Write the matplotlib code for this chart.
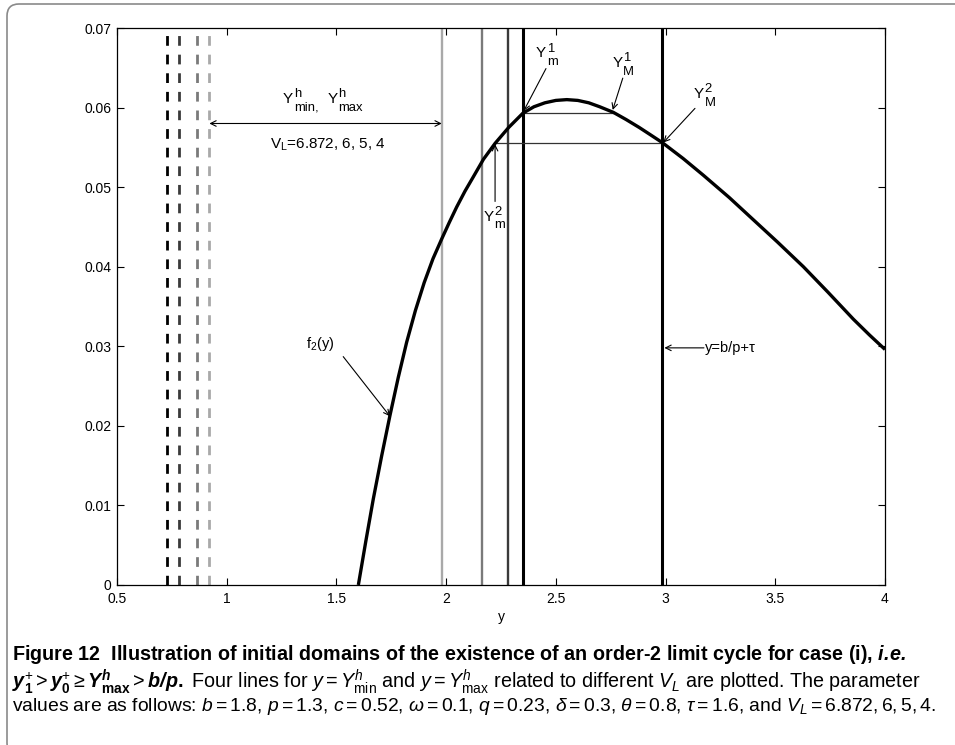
import matplotlib
matplotlib.use('Agg')
import matplotlib.pyplot as plt
from matplotlib import font_manager
from matplotlib.patches import FancyBboxPatch
from matplotlib.transforms import IdentityTransform

# f2(y) sampled along the curve
y_pts = [1.600, 1.634, 1.668, 1.706, 1.744, 1.782, 1.820, 1.860, 1.900, 1.940,
         1.980, 2.015, 2.048, 2.086, 2.124, 2.170, 2.223, 2.285, 2.350, 2.400,
         2.450, 2.500, 2.550, 2.600, 2.650, 2.700, 2.762, 2.820, 2.880, 2.930,
         2.985, 3.080, 3.172, 3.290, 3.400, 3.510, 3.628, 3.740, 3.856, 3.930, 4.000]
f2_pts = [0.0, 0.0055, 0.0108, 0.0162, 0.0213, 0.0261, 0.0305, 0.0345, 0.0380, 0.0410,
          0.0435, 0.0456, 0.0475, 0.0495, 0.0513, 0.0535, 0.0555, 0.0575, 0.0593, 0.0601,
          0.0606, 0.0609, 0.0610, 0.0609, 0.0606, 0.0601, 0.0594, 0.0585, 0.0575, 0.0566,
          0.0556, 0.0536, 0.0515, 0.0487, 0.0459, 0.0431, 0.0400, 0.0368, 0.0334, 0.0314, 0.0296]

# Y^h_min (dashed) and Y^h_max (solid) for V_L = 6.872, 6, 5, 4
v_l = ['6.872', '6', '5', '4']
y_min_h = [0.728, 0.783, 0.863, 0.921]
y_max_h = [2.349, 2.280, 2.162, 1.980]
greys = ['#000000', '#3a3a3a', '#7a7a7a', '#a9a9a9']

b, p, tau = 1.8, 1.3, 1.6
y_switch = b / p + tau

# order-2 cycle points: (level, Y_m, Y_M)
cycle1 = (0.0593, 2.349, 2.762)
cycle2 = (0.0555, 2.223, y_switch)

x_ticks = [0.5, 1, 1.5, 2, 2.5, 3, 3.5, 4]
x_tick_labels = ['0.5', '1', '1.5', '2', '2.5', '3', '3.5', '4']
y_ticks = [0, 0.01, 0.02, 0.03, 0.04, 0.05, 0.06, 0.07]
y_tick_labels = ['0', '0.01', '0.02', '0.03', '0.04', '0.05', '0.06', '0.07']

names = {f.name for f in font_manager.fontManager.ttflist}
cap_font = 'Liberation Sans Narrow' if 'Liberation Sans Narrow' in names else 'Liberation Sans'

plt.rcParams['font.family'] = ['Liberation Sans', 'DejaVu Sans']
plt.rcParams['mathtext.fontset'] = 'custom'
plt.rcParams['mathtext.rm'] = cap_font
plt.rcParams['mathtext.it'] = cap_font + ':italic'
plt.rcParams['mathtext.bf'] = cap_font + ':bold'
plt.rcParams['mathtext.bfit'] = cap_font + ':italic:bold'

fig = plt.figure(figsize=(9.55, 7.45), dpi=100)
ax = fig.add_axes([0.1225, 0.2148, 0.8042, 0.7476])


def scripted(x, y, base, sup=None, sub=None, size=11):
    # base glyph ends at (x, y); scripts hang off its right side
    ax.annotate(base, (x, y), ha='right', va='baseline', fontsize=size)
    if sup:
        ax.annotate(sup, (x, y), xytext=(0.5, 4.2), textcoords='offset points',
                    ha='left', va='baseline', fontsize=size * 0.85)
    if sub:
        ax.annotate(sub, (x, y), xytext=(0.5, -5.6), textcoords='offset points',
                    ha='left', va='baseline', fontsize=size * 0.85)


for x, c in zip(y_min_h, greys):
    ax.axvline(x, color=c, lw=2.0, ls=(0, (3.5, 3.2)))
for x, c in zip(y_max_h, greys):
    ax.axvline(x, color=c, lw=2.2 if c == '#000000' else 1.7)
ax.axvline(y_switch, color='k', lw=2.2)

# horizontal links between Y_m and Y_M
for lev, lo, hi in (cycle1, cycle2):
    ax.plot([lo, hi], [lev, lev], color='#333333', lw=0.9)

ax.plot(y_pts, f2_pts, color='k', lw=2.4, solid_capstyle='butt', solid_joinstyle='round')

arrow = dict(arrowstyle='->', lw=0.8, color='k', shrinkA=0, shrinkB=0)
ax.annotate('', xy=(1.980, 0.0580), xytext=(0.921, 0.0580),
            arrowprops=dict(arrow, arrowstyle='<->'))
scripted(1.303, 0.0606, 'Y', 'h', 'min,')
scripted(1.506, 0.0606, 'Y', 'h', 'max')
ax.text(1.46, 0.0553, r'$\mathregular{V_L}$=6.872, 6, 5, 4', ha='center', va='center', fontsize=11)

ax.annotate('', xy=(cycle1[1] + 0.005, cycle1[0] + 0.0003), xytext=(2.455, 0.0649), arrowprops=arrow)
scripted(2.455, 0.0663, 'Y', '1', 'm')

ax.annotate('', xy=(cycle1[2] - 0.003, cycle1[0] + 0.0004), xytext=(2.805, 0.0637), arrowprops=arrow)
scripted(2.804, 0.0651, 'Y', '1', 'M')

ax.annotate('', xy=(cycle2[2] + 0.005, cycle2[0] + 0.0001), xytext=(3.134, 0.0599), arrowprops=arrow)
scripted(3.175, 0.0612, 'Y', '2', 'M')

ax.annotate('', xy=(cycle2[1], cycle2[0] - 0.0001), xytext=(cycle2[1], 0.0482), arrowprops=arrow)
scripted(2.215, 0.0458, 'Y', '2', 'm')

ax.annotate('', xy=(1.744, 0.0212), xytext=(1.531, 0.0287), arrowprops=arrow)
ax.text(1.425, 0.0303, r'$\mathregular{f_2}$(y)', ha='center', va='center', fontsize=10.5)

ax.annotate('', xy=(y_switch + 0.01, 0.0298), xytext=(3.175, 0.0298), arrowprops=arrow)
ax.text(3.18, 0.0298, 'y=b/p+\u03c4', ha='left', va='center', fontsize=10.5)

ax.set_xlim(0.5, 4)
ax.set_ylim(0, 0.07)
ax.set_xticks(x_ticks, x_tick_labels)
ax.set_yticks(y_ticks, y_tick_labels)
ax.tick_params(direction='in', top=True, right=True, length=5, width=0.8,
               labelsize=10, pad=5)
ax.tick_params(axis='y', pad=4)
for s in ax.spines.values():
    s.set_linewidth(0.9)
ax.set_xlabel('y', fontsize=10, labelpad=3)

# caption below the plot
cap = dict(family=cap_font, ha='left', va='baseline')
fig.text(12 / 955, 1 - 660 / 745,
         r'Figure 12  Illustration of initial domains of the existence of an order-2 '
         r'limit cycle for case (i), $\mathbfit{i.\!e.}$', fontweight='bold',
         fontsize=14.2, **cap)
fig.text(12 / 955, 1 - 688 / 745,
         r'$\mathbfit{y}_{\mathbf{1}}^{+}>\mathbfit{y}_{\mathbf{0}}^{+}\geq'
         r'\mathbfit{Y}_{\mathbf{max}}^{\mathbfit{h}}>\mathbfit{b/p}\mathbf{.}$'
         r' Four lines for $y=Y_{\mathrm{min}}^{h}$ and $y=Y_{\mathrm{max}}^{h}$'
         r' related to different $V_L$ are plotted. The parameter', fontsize=14.2, **cap)
fig.text(12 / 955, 1 - 711 / 745,
         r'values are as follows: $b=1.8$, $p=1.3$, $c=0.52$, $\omega=0.1$, $q=0.23$, '
         r'$\delta=0.3$, $\theta=0.8$, $\tau=1.6$, and $V_L=6.872,6,5,4$.',
         fontsize=13.9, **cap)

# rounded page frame
frame = FancyBboxPatch((7, -10), 1000, 751, boxstyle='round,pad=0,rounding_size=12',
                       transform=IdentityTransform(), fill=False,
                       edgecolor='#8a8a8a', lw=1.2)
fig.add_artist(frame)

fig.savefig('out.png', dpi=100)
